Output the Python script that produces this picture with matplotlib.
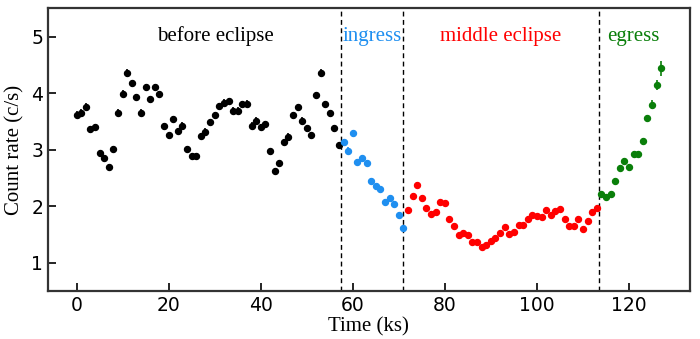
import matplotlib
matplotlib.use("Agg")
import matplotlib.pyplot as plt

# ---- data ----
t_before = list(range(0, 58))
r_before = [3.62, 3.65, 3.76, 3.36, 3.40, 2.94, 2.86, 2.70, 3.01, 3.65,
            3.99, 4.36, 4.17, 3.93, 3.65, 4.10, 3.89, 4.10, 3.98, 3.41,
            3.25, 3.54, 3.33, 3.42, 3.01, 2.89, 2.89, 3.24, 3.32, 3.49,
            3.61, 3.77, 3.83, 3.86, 3.69, 3.69, 3.80, 3.81, 3.42, 3.51,
            3.40, 3.45, 2.97, 2.63, 2.77, 3.13, 3.23, 3.61, 3.75, 3.51,
            3.38, 3.25, 3.96, 4.36, 3.80, 3.64, 3.38, 3.08]
e_before = [0.06, 0.06, 0.06, 0.06, 0.06, 0.05, 0.05, 0.05, 0.05, 0.06,
            0.06, 0.07, 0.06, 0.06, 0.06, 0.06, 0.06, 0.06, 0.06, 0.06,
            0.06, 0.06, 0.06, 0.06, 0.05, 0.05, 0.05, 0.06, 0.06, 0.06,
            0.06, 0.06, 0.06, 0.06, 0.06, 0.06, 0.06, 0.06, 0.06, 0.06,
            0.06, 0.06, 0.05, 0.05, 0.05, 0.06, 0.06, 0.06, 0.06, 0.06,
            0.06, 0.06, 0.06, 0.07, 0.06, 0.06, 0.06, 0.06]

t_ingress = list(range(58, 72))
r_ingress = [3.13, 2.98, 3.29, 2.79, 2.85, 2.77, 2.45, 2.35, 2.31, 2.08,
             2.14, 2.04, 1.84, 1.61]
e_ingress = [0.06, 0.06, 0.06, 0.05, 0.05, 0.05, 0.05, 0.05, 0.05, 0.05,
             0.05, 0.05, 0.05, 0.05]

t_middle = list(range(72, 114))
r_middle = [1.93, 2.18, 2.38, 2.15, 1.97, 1.87, 1.90, 2.08, 2.05, 1.78,
            1.65, 1.49, 1.53, 1.49, 1.36, 1.36, 1.27, 1.31, 1.38, 1.44,
            1.53, 1.63, 1.51, 1.54, 1.66, 1.66, 1.78, 1.84, 1.82, 1.80,
            1.94, 1.84, 1.91, 1.95, 1.78, 1.65, 1.65, 1.78, 1.60, 1.74,
            1.90, 1.97]
e_middle = [0.05, 0.05, 0.05, 0.05, 0.05, 0.05, 0.05, 0.05, 0.05, 0.04,
            0.04, 0.04, 0.04, 0.04, 0.04, 0.04, 0.04, 0.04, 0.04, 0.04,
            0.04, 0.04, 0.04, 0.04, 0.04, 0.04, 0.04, 0.04, 0.04, 0.04,
            0.05, 0.04, 0.05, 0.05, 0.04, 0.04, 0.04, 0.04, 0.04, 0.04,
            0.05, 0.05]

t_egress = list(range(114, 128))
r_egress = [2.22, 2.17, 2.21, 2.45, 2.68, 2.80, 2.70, 2.92, 2.93, 3.15,
            3.56, 3.79, 4.14, 4.44]
e_egress = [0.05, 0.05, 0.05, 0.05, 0.05, 0.05, 0.05, 0.05, 0.05, 0.06,
            0.06, 0.08, 0.09, 0.13]

boundaries = [57.5, 71.0, 113.4]
labels = ["before eclipse", "ingress", "middle eclipse", "egress"]
label_x = [30.1, 64.2, 92.2, 120.9]
colors = ["black", "#1f8ff0", "#ff0000", "#0a7f0a"]

# ---- plot ----
fig = plt.figure(figsize=(7.0, 3.39), dpi=100)
ax = fig.add_axes([0.068, 0.1416, 0.918, 0.834])

series = [(t_before, r_before, e_before), (t_ingress, r_ingress, e_ingress),
          (t_middle, r_middle, e_middle), (t_egress, r_egress, e_egress)]
for (t, r, e), c in zip(series, colors):
    ax.errorbar(t, r, yerr=e, fmt='o', color=c, ms=4.3, elinewidth=1.2,
                capsize=0, mec=c)

for b in boundaries:
    ax.axvline(b, color='black', ls=(0, (3.5, 2.5)), lw=1.0)

for lab, lx, c in zip(labels, label_x, colors):
    ax.text(lx, 5.0, lab, color=c, ha='center', va='center',
            fontsize=15, family='Liberation Serif')

ax.set_xlim(-6.3, 133.3)
ax.set_ylim(0.5, 5.5)
ax.set_xticks([0, 20, 40, 60, 80, 100, 120])
ax.set_yticks([1, 2, 3, 4, 5])
ax.tick_params(direction='in', length=6, width=1.2, labelsize=13.5,
               top=False, right=False)
ax.tick_params(axis='x', pad=3.5)
ax.tick_params(axis='y', pad=3.2)
for s in ax.spines.values():
    s.set_linewidth(1.6)
    s.set_color('#333333')

ax.set_xlabel("Time (ks)", fontsize=15, family='Liberation Serif', labelpad=2)
ax.set_ylabel("Count rate (c/s)", fontsize=15, family='Liberation Serif', labelpad=5)

fig.savefig("out.png", dpi=100)
